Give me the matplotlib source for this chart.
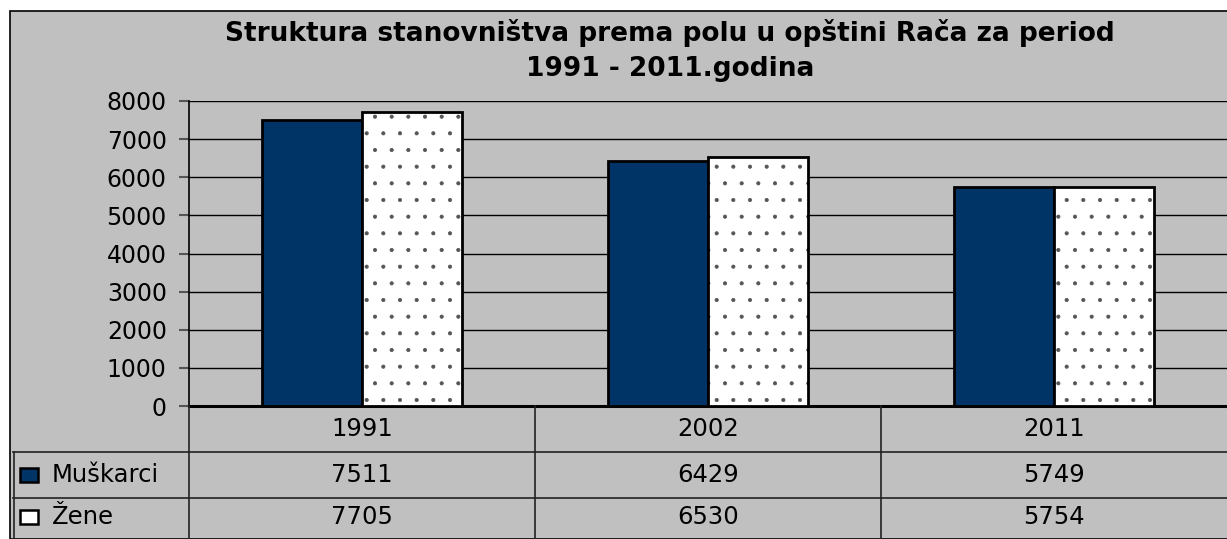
import matplotlib
matplotlib.use("Agg")
import matplotlib.pyplot as plt
from matplotlib.patches import Rectangle
import numpy as np

plt.rcParams['font.family'] = ['DejaVu Sans']
plt.rcParams['hatch.linewidth'] = 0.5

# data
years = ['1991', '2002', '2011']
muskarci = [7511, 6429, 5749]
zene = [7705, 6530, 5754]
series_names = ['Muškarci', 'Žene']
yticks = [0, 1000, 2000, 3000, 4000, 5000, 6000, 7000, 8000]

W, H = 1227, 539
fig = plt.figure(figsize=(W / 100, H / 100), dpi=100)
fig.patch.set_facecolor('white')

gray = '#C0C0C0'
navy = '#003366'
dotc = '#555555'

# chart area background with border
bg = Rectangle((9.5 / W, 0), 1, 1 - 11 / H, transform=fig.transFigure,
               facecolor=gray, edgecolor='black', linewidth=1.2, zorder=-10)
fig.patches.append(bg)

# main plot axes
ax = fig.add_axes([189 / W, 1 - 406 / H, (W - 189) / W, (406 - 101) / H])
ax.set_facecolor(gray)
x = np.arange(len(years))
bw = 0.29
ax.bar(x - bw / 2, muskarci, bw, color=navy, edgecolor='black', linewidth=2, zorder=3)
# white bars: dotted fill first, black outline on top
ax.bar(x + bw / 2, zene, bw, color='white', edgecolor=dotc, linewidth=0,
       hatch='.', zorder=3)
ax.bar(x + bw / 2, zene, bw, fill=False, edgecolor='black', linewidth=2, zorder=4)
ax.set_xlim(-0.5, len(years) - 0.5)
ax.set_ylim(0, 8000)
ax.set_yticks(yticks)
ax.set_yticklabels([str(v) for v in yticks], fontsize=17)
ax.set_xticks([])
ax.yaxis.grid(True, color='black', linewidth=1)
ax.set_axisbelow(True)
ax.tick_params(axis='y', length=7, width=1.5, color='#555555', pad=9)
for s in ['top', 'right']:
    ax.spines[s].set_visible(False)
ax.spines['left'].set_linewidth(1.2)
ax.spines['bottom'].set_linewidth(2.2)

# title
fig.text(670 / W, 1 - 33 / H, 'Struktura stanovništva prema polu u opštini Rača za period',
         ha='center', va='center', fontsize=19, fontweight='bold')
fig.text(670 / W, 1 - 69 / H, '1991 - 2011.godina',
         ha='center', va='center', fontsize=19, fontweight='bold')

# data table below the plot
unit = (W - 189) / len(years)
x0 = -0.5 - (189 - 13) / unit
tab = fig.add_axes([13 / W, 0, (W - 13) / W, (H - 406) / H])
tab.set_xlim(x0, len(years) - 0.5)
tab.set_ylim(H, 406)
tab.axis('off')
rows = [406, 452, 498, H]
lc = '#222222'
for r in rows[1:3]:
    tab.plot([x0, len(years) - 0.5], [r, r], color=lc, lw=1.2, clip_on=False)
for i in range(len(years)):
    tab.plot([i - 0.5, i - 0.5], [406, H], color=lc, lw=1.2, clip_on=False)
tab.plot([x0 + 0.002, x0 + 0.002], [452, H], color=lc, lw=1.2, clip_on=False)

fs = 17.5
for i, yr in enumerate(years):
    tab.text(i, (rows[0] + rows[1]) / 2, yr, ha='center', va='center', fontsize=fs)
    tab.text(i, (rows[1] + rows[2]) / 2, str(muskarci[i]), ha='center', va='center', fontsize=fs)
    tab.text(i, (rows[2] + rows[3]) / 2 - 2, str(zene[i]), ha='center', va='center', fontsize=fs)

key_styles = [dict(facecolor=navy, hatch=None), dict(facecolor='white', hatch=None)]
for j, (name, st) in enumerate(zip(series_names, key_styles)):
    yc = (rows[j + 1] + rows[j + 2]) / 2 - (2 if j == 1 else 0)
    tab.text(x0 + 39 / unit, yc, name, ha='left', va='center', fontsize=fs)
    key = Rectangle((x0 + 7 / unit, yc + 7), 18 / unit, -14, facecolor=st['facecolor'],
                    edgecolor='black', linewidth=1.8, hatch=st['hatch'])
    tab.add_patch(key)

fig.savefig('out.png', dpi=100)
